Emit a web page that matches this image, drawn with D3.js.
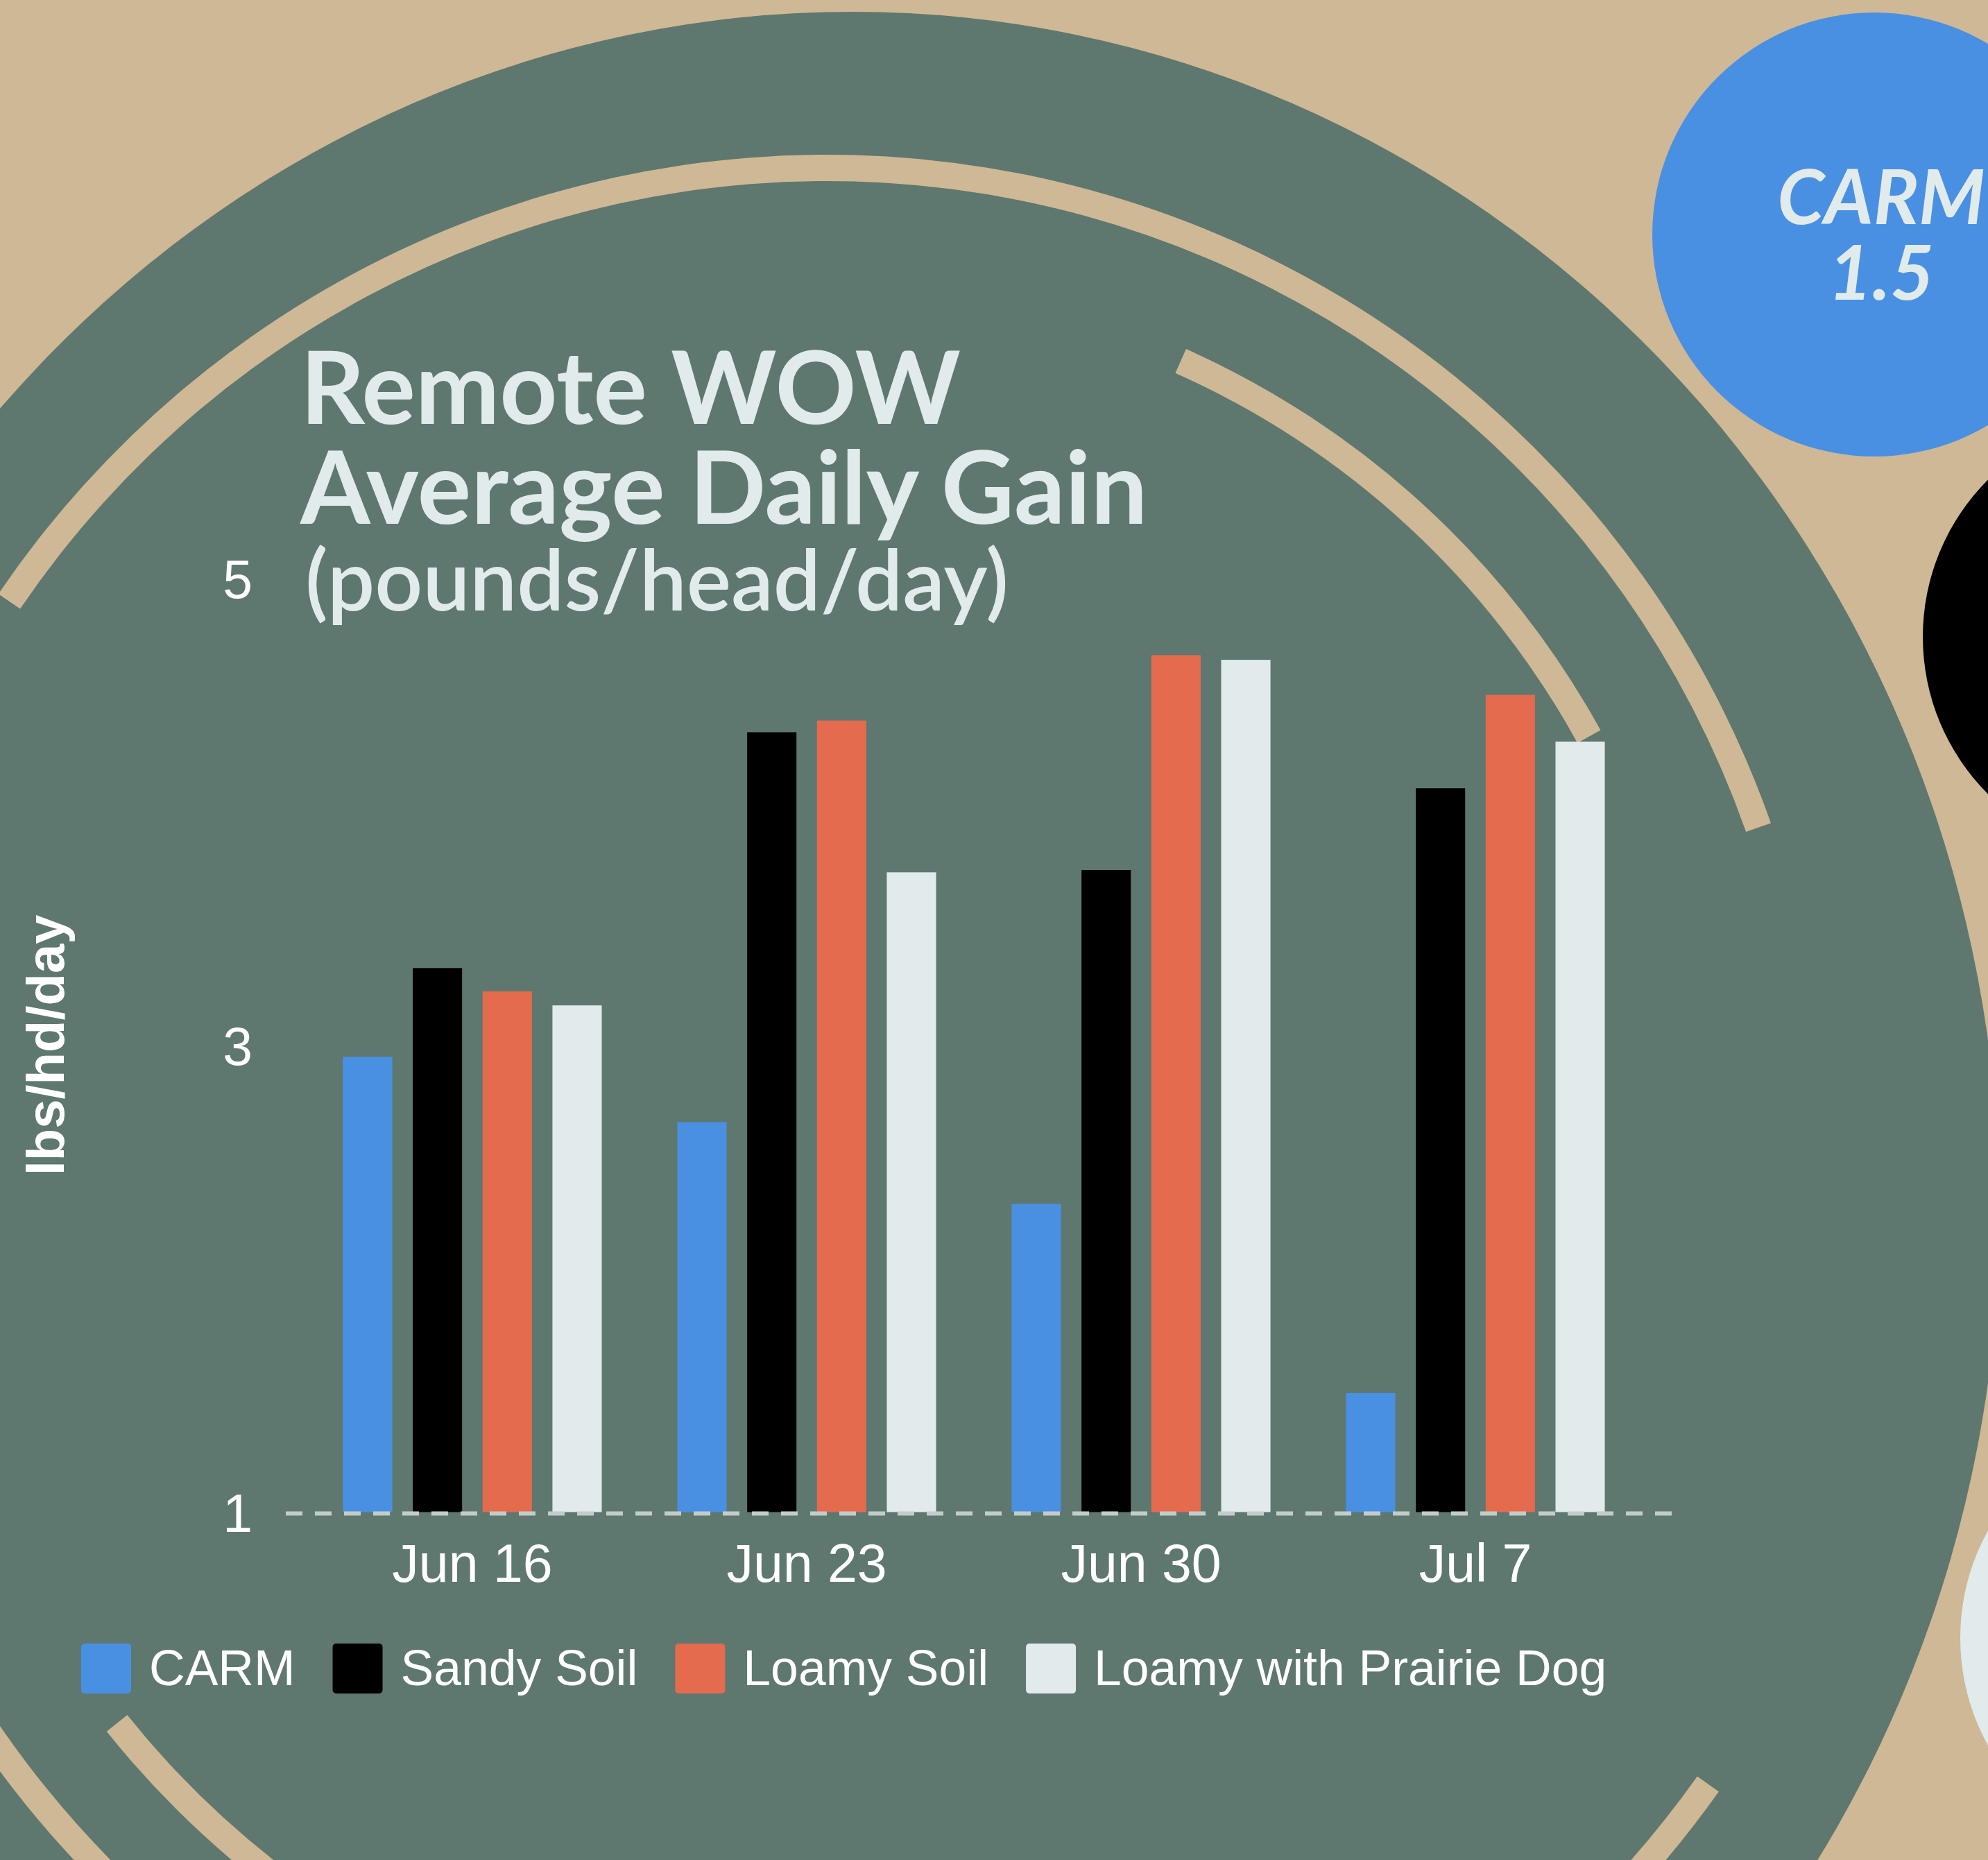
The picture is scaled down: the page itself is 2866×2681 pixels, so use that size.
<!DOCTYPE html>
<html>
<head>
<meta charset="utf-8">
<script src="https://cdn.jsdelivr.net/npm/d3@7"></script>
<style>
  body { margin: 0; overflow: hidden; background: #cfb895; }
  .axis text { fill: #ffffff; font-family: "Liberation Sans", Arial, sans-serif; }
  .title { fill: #e1ebeb; font-family: Lato, sans-serif; }
</style>
</head>
<body>
<div class="chart"></div>
<script>
// categories + series
var weeks = ["Jun 16", "Jun 23", "Jun 30", "Jul 7"];
var seriesNames = ["CARM", "Sandy Soil", "Loamy Soil", "Loamy with Prairie Dog"];
var carm = [2.95, 2.67, 2.32, 1.51];
var sandy = [3.33, 4.34, 3.75, 4.10];
var loamy = [3.23, 4.39, 4.67, 4.50];
var prairie = [3.17, 3.74, 4.65, 4.30];
var yTicks = [1, 3, 5];
var titleLines = ["Remote WOW", "Average Daily Gain"];
var subTitle = "(pounds/head/day)";
var yLabel = "lbs/hd/day";
var colors = ["#4a90e2", "#000000", "#e56b4e", "#e1ebeb"];

var W = 2866, H = 2681;
var tan = "#cfb895", green = "#5e786f";

var svg = d3.select(".chart").append("svg")
    .attr("width", W)
    .attr("height", H);

//************************************************************
// background: tan page, green disc, tan arcs, side bubbles
//************************************************************
svg.append("rect").attr("width", W).attr("height", H).attr("fill", tan);

svg.append("ellipse")
    .attr("cx", 1229).attr("cy", 1746)
    .attr("rx", 1654).attr("ry", 1729)
    .attr("fill", green);

var ring = d3.arc();
var arcs = [
    { r: 1424, a0: -0.975, a1: 1.232 },
    { r: 1254, a0: 0.419, a1: 1.068 },
    { r: 1310, a0: -2.245, a1: -2.75 },
    { r: 1560, a0: 2.19, a1: 2.6 },
    { r: 1467, a0: -2.1, a1: -2.7 }
];
svg.append("g")
    .attr("transform", "translate(1192,1666)")
    .selectAll("path")
    .data(arcs)
    .enter()
    .append("path")
    .attr("fill", tan)
    .attr("d", function (d) {
        return ring({ innerRadius: d.r - 19, outerRadius: d.r + 19, startAngle: d.a0, endAngle: d.a1 });
    });

var bubbles = [
    { cx: 2702, cy: 338, c: colors[0] },
    { cx: 3092, cy: 918, c: colors[1] },
    { cx: 3146, cy: 2361, c: colors[3] }
];
svg.selectAll(".bubble")
    .data(bubbles)
    .enter()
    .append("circle")
    .attr("class", "bubble")
    .attr("cx", function (d) { return d.cx; })
    .attr("cy", function (d) { return d.cy; })
    .attr("r", 320)
    .attr("fill", function (d) { return d.c; });

var bubbleText = svg.append("text")
    .attr("class", "title")
    .attr("text-anchor", "middle")
    .style("font-style", "italic")
    .style("font-weight", 700)
    .style("font-size", "109px");
bubbleText.append("tspan").attr("x", 2712).attr("y", 323).text(seriesNames[0]);
bubbleText.append("tspan").attr("x", 2712).attr("y", 432).text(d3.format(".1f")(carm[carm.length - 1]));

//************************************************************
// scales and axes
//************************************************************
var plotLeft = 412, plotRight = 2411;

var x0 = d3.scaleBand()
    .domain(weeks)
    .range([plotLeft, 2396])
    .paddingInner(0.226)
    .paddingOuter(0.171);

var x1 = d3.scaleBand()
    .domain(seriesNames)
    .range([0, x0.bandwidth()])
    .paddingInner(0.294);

var y = d3.scaleLinear()
    .domain([1, 5])
    .range([2179.5, 833.3]);

var yAxis = d3.axisLeft(y)
    .tickValues(yTicks)
    .tickFormat(d3.format("d"))
    .tickSize(0)
    .tickPadding(48);

svg.append("g")
    .attr("class", "y axis")
    .attr("transform", "translate(" + plotLeft + ",0)")
    .call(yAxis)
    .call(function (g) { g.select(".domain").remove(); })
    .selectAll("text")
    .style("font-size", "77px")
    .attr("dy", "0.36em");

var xAxis = d3.axisBottom(x0)
    .tickSize(0)
    .tickPadding(46);

svg.append("g")
    .attr("class", "x axis")
    .attr("transform", "translate(0," + y(1) + ")")
    .call(xAxis)
    .call(function (g) { g.select(".domain").remove(); })
    .selectAll("text")
    .style("font-size", "77px");

svg.append("text")
    .attr("class", "axis")
    .attr("transform", "translate(92," + y(3) + ") rotate(-90)")
    .attr("text-anchor", "middle")
    .style("fill", "#ffffff")
    .style("font-family", "'Liberation Sans', Arial, sans-serif")
    .style("font-weight", "bold")
    .style("font-size", "76px")
    .text(yLabel);

//************************************************************
// bars
//************************************************************
var table = weeks.map(function (w, i) {
    return { week: w, values: [carm[i], sandy[i], loamy[i], prairie[i]] };
});

var groups = svg.selectAll(".week")
    .data(table)
    .enter()
    .append("g")
    .attr("class", "week")
    .attr("transform", function (d) { return "translate(" + x0(d.week) + ",0)"; });

groups.selectAll("rect")
    .data(function (d) {
        return d.values.map(function (v, i) { return { name: seriesNames[i], v: v, i: i }; });
    })
    .enter()
    .append("rect")
    .attr("x", function (d) { return x1(d.name); })
    .attr("width", x1.bandwidth())
    .attr("y", function (d) { return y(d.v); })
    .attr("height", function (d) { return y(1) - y(d.v); })
    .attr("fill", function (d) { return colors[d.i]; });

// dashed zero line
svg.append("line")
    .attr("x1", plotLeft).attr("x2", plotRight)
    .attr("y1", y(1) + 2).attr("y2", y(1) + 2)
    .attr("stroke", "#c4ccc9")
    .attr("stroke-width", 6)
    .attr("stroke-dasharray", "24,18");

//************************************************************
// title
//************************************************************
var title = svg.append("text")
    .attr("class", "title")
    .style("font-weight", 700)
    .style("font-size", "145px");
title.selectAll("tspan")
    .data(titleLines)
    .enter()
    .append("tspan")
    .attr("x", 433)
    .attr("y", function (d, i) { return 611 + i * 144; })
    .text(function (d) { return d; });

svg.append("text")
    .attr("class", "title")
    .attr("x", 440)
    .attr("y", 880)
    .style("font-weight", 600)
    .style("font-size", "121px")
    .text(subTitle);

//************************************************************
// legend
//************************************************************
var legend = svg.append("g").attr("class", "legend");
var lx = 117;
seriesNames.forEach(function (name, i) {
    legend.append("rect")
        .attr("x", lx).attr("y", 2369)
        .attr("width", 72).attr("height", 72)
        .attr("rx", 5)
        .attr("fill", colors[i]);
    var t = legend.append("text")
        .attr("x", lx + 98)
        .attr("y", 2429)
        .style("fill", "#ffffff")
        .style("font-family", "'Liberation Sans', Arial, sans-serif")
        .style("font-size", "71.5px")
        .text(name);
    lx = lx + 98 + t.node().getComputedTextLength() + 54;
});
</script>
</body>
</html>
